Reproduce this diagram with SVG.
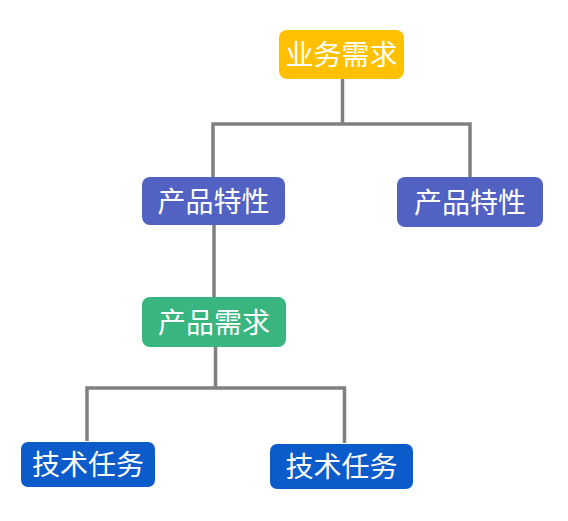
<svg xmlns="http://www.w3.org/2000/svg" width="568" height="521" viewBox="0 0 568 521">
<style>
.lbl{font-family:"Noto Sans CJK SC","Liberation Sans",sans-serif;font-size:28px;fill:#ffffff;text-anchor:middle}
.conn{fill:none;stroke:#808080;stroke-width:3.5}
</style>
<rect width="568" height="521" fill="#ffffff"/>
<g id="connectors">
<path class="conn" d="M342.5,79 V124 M213,178 V124 H470 V177"/>
<path class="conn" d="M214,224 V297"/>
<path class="conn" d="M215.5,347 V388 M87,441 V388 H344.5 V443"/>
</g>
<g id="n1"><rect x="279" y="30" width="125" height="49" rx="8" fill="#FFC000"/><text class="lbl" x="341.5" y="65">业务需求</text></g>
<g id="n2"><rect x="142" y="177" width="143" height="48" rx="8" fill="#5262C2"/><text class="lbl" x="213.5" y="211.5">产品特性</text></g>
<g id="n3"><rect x="397" y="177" width="146" height="50" rx="8" fill="#5262C2"/><text class="lbl" x="470" y="212.5">产品特性</text></g>
<g id="n4"><rect x="142" y="297" width="144" height="50" rx="8" fill="#39B580"/><text class="lbl" x="214" y="332.5">产品需求</text></g>
<g id="n5"><rect x="21" y="442" width="134" height="45" rx="7" fill="#0B5BCB"/><text class="lbl" x="88" y="475">技术任务</text></g>
<g id="n6"><rect x="270" y="444" width="143" height="45" rx="7" fill="#0B5BCB"/><text class="lbl" x="341.5" y="477">技术任务</text></g>
</svg>
